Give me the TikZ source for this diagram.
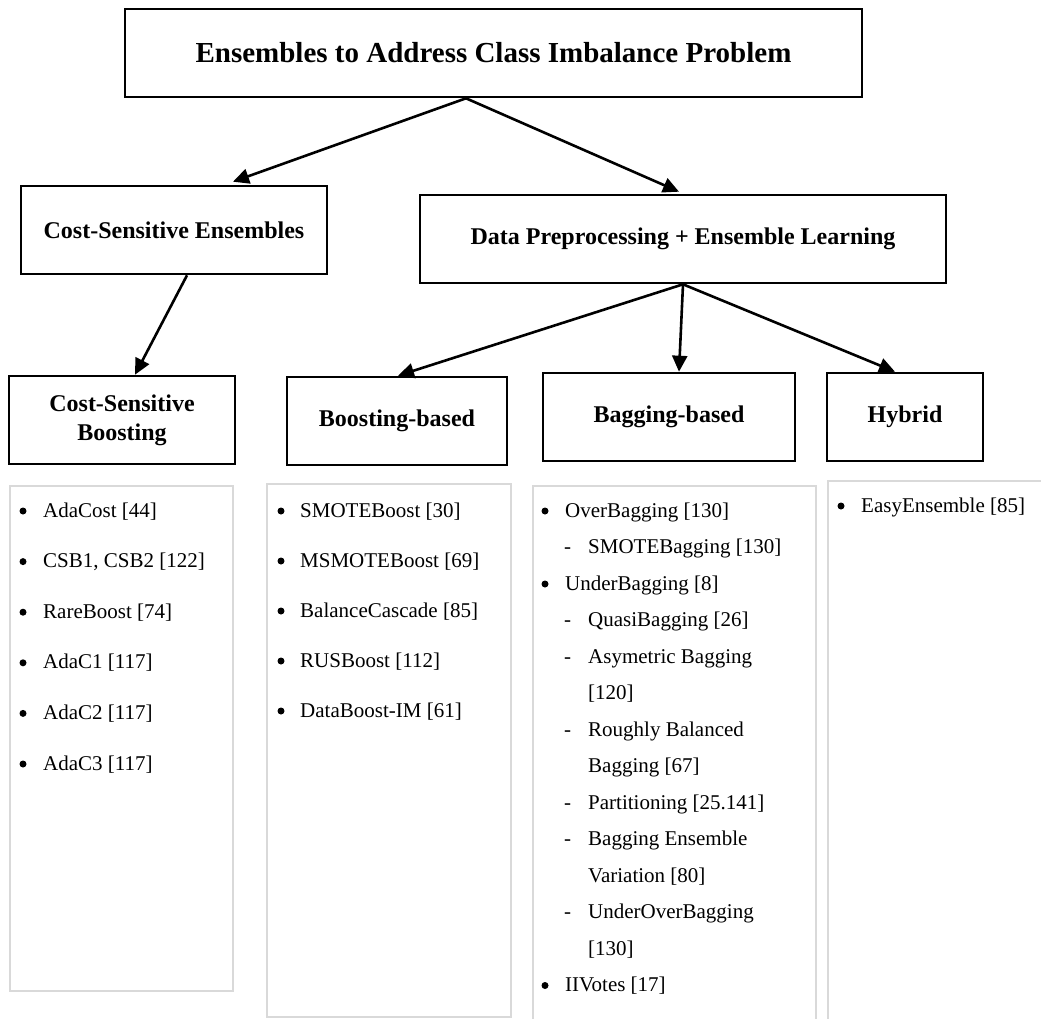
\documentclass[tikz,border=0pt]{standalone}
\usepackage{fontspec}
\setmainfont{Liberation Serif}
\usetikzlibrary{arrows.meta}

\definecolor{listgrey}{RGB}{217,217,217}

\tikzset{
	headbox/.style = {draw, line width = 2.6pt, inner sep = 0pt, minimum height = 88pt, align = center, font = \bfseries\fontsize{24}{29}\selectfont},
	listbox/.style = {draw = listgrey, line width = 1.6pt, anchor = north west, inner sep = 0pt},
	item/.style = {anchor = base west, inner sep = 0pt, font = \fontsize{21}{25}\selectfont},
	dot/.style = {circle, fill, inner sep = 0pt, minimum size = 7pt},
	link/.style = {line width = 2.6pt, ->}
}

\begin{document}
\begin{tikzpicture}[x = 1pt, y = -1pt, > = {Triangle[length = 16pt, width = 15pt]}]

	% Page frame
	
	\useasboundingbox (0, 0) rectangle (1041, 1018);
	\clip (0, 0) rectangle (1041, 1018);

	% Heading boxes
	
	\node [headbox, minimum width = 737pt, font = \bfseries\fontsize{29}{35}\selectfont] (title) at (493.5, 53) {Ensembles to Address Class Imbalance Problem};
	\node [headbox, minimum width = 306pt] (cse) at (174, 230) {Cost-Sensitive Ensembles};
	\node [headbox, minimum width = 526pt] (data) at (683, 239) {Data Preprocessing + Ensemble Learning};
	\node [headbox, minimum width = 226pt] (csb) at (122, 420) {Cost-Sensitive\\Boosting};
	\node [headbox, minimum width = 220pt] (boost) at (397, 421) {Boosting-based};
	\node [headbox, minimum width = 252pt] (bag) at (669, 417) {Bagging-based};
	\node [headbox, minimum width = 156pt] (hyb) at (905, 417) {Hybrid};

	% Arrows between the levels
	
	\draw [link] ([xshift = -27.5pt] title.south) -- ([xshift = 59pt, yshift = 3pt] cse.north);
	\draw [link] ([xshift = -27.5pt] title.south) -- ([xshift = -4pt, yshift = 2pt] data.north);
	\draw [link] ([xshift = 13pt] cse.south) -- ([xshift = 13pt] csb.north);
	\draw [link] (data.south) -- ([xshift = 1pt] boost.north);
	\draw [link] (data.south) -- ([xshift = 10pt] bag.north);
	\draw [link] (data.south) -- ([xshift = -10pt] hyb.north);

	% Grey list frames
	
	\node [listbox, minimum width = 223pt, minimum height = 505pt] (costlist) at (9, 485) {};
	\node [listbox, minimum width = 244pt, minimum height = 533pt] (boostlist) at (266, 483) {};
	\node [listbox, minimum width = 283pt, minimum height = 560pt] (baglist) at (532, 485) {};
	\node [listbox, minimum width = 240pt, minimum height = 570pt] (hyblist) at (827, 480) {};

	% Cost-sensitive boosting methods
	
	\foreach \txt [count = \i] in {AdaCost [44], {CSB1, CSB2 [122]}, RareBoost [74], AdaC1 [117], AdaC2 [117], AdaC3 [117]}
	{
		\node [dot] (costdot\i) at (23, {511 + (\i - 1) * 50.6}) {};
		\node [item] (cost\i) at (43, {517 + (\i - 1) * 50.6}) {\txt};
	}

	% Boosting-based methods
	
	\foreach \txt [count = \i] in {SMOTEBoost [30], MSMOTEBoost [69], BalanceCascade [85], RUSBoost [112], DataBoost-IM [61]}
	{
		\node [dot] (boostdot\i) at (281, {511 + (\i - 1) * 50}) {};
		\node [item] (boost\i) at (300, {517 + (\i - 1) * 50}) {\txt};
	}

	% Bagging-based methods (0 = bullet, 1 = dash, 2 = wrapped line)
	
	\foreach \lvl/\txt [count = \i] in {0/OverBagging [130], 1/SMOTEBagging [130], 0/UnderBagging [8], 1/QuasiBagging [26], 1/Asymetric Bagging, 2/[120], 1/Roughly Balanced, 2/Bagging [67], 1/Partitioning [25.141], 1/Bagging Ensemble, 2/Variation [80], 1/UnderOverBagging, 2/[130], 0/IIVotes [17]}
	{
		\ifnum\lvl = 0
			\node [dot] (bagdot\i) at (545, {511 + (\i - 1) * 36.5}) {};
		\fi
		\node [item] (bag\i) at ({\lvl == 0 ? 565 : 564}, {517 + (\i - 1) * 36.5}) {\ifcase\lvl \or \makebox[24pt][l]{-}\or \hspace{24pt}\fi\txt};
	}

	% Hybrid methods
	
	\node [dot] (hybdot1) at (841, 506) {};
	\node [item] (hyb1) at (861, 512) {EasyEnsemble [85]};

\end{tikzpicture}
\end{document}
